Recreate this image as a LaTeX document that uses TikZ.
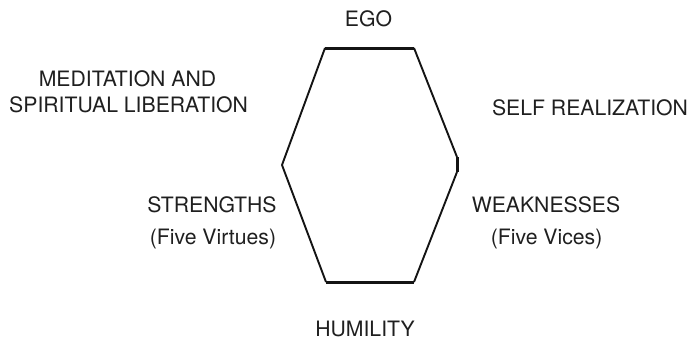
\documentclass[tikz,border=0pt]{standalone}
\usepackage{fontspec}
\setmainfont{TeX Gyre Heros}
\begin{document}
\begin{tikzpicture}[
	x=1pt, y=1pt,
	lbl/.style={ anchor=base, inner sep=0pt, text=black!88, font=\fontsize{21.2}{25}\selectfont },
	side/.style={ draw=black!92, line width=1.9pt, line join=round },
	rim/.style={ draw=black!92, line width=3pt }
]
\useasboundingbox (0,0) rectangle (690,341);

\coordinate (tl) at (325,293);
\coordinate (tr) at (414,293);
\coordinate (rt) at (457,184);
\coordinate (rb) at (457,169);
\coordinate (br) at (414,59);
\coordinate (bl) at (326,59);
\coordinate (lf) at (282,176);
\draw[side] (tr) -- (rt) (rb) -- (br);
\draw[side] (bl) -- (lf) -- (tl);
\draw[rim] (tl) -- (tr);
\draw[rim] (bl) -- (br);
\draw[rim] (rt) -- (rb);

\node at (368.5,314) (ego) [lbl] {EGO};
\node at (365,4.5) (hum) [lbl] {HUMILITY};
\node at (127.5,255) (med) [lbl] {MEDITATION AND};
\node at (128.6,229) (lib) [lbl] {SPIRITUAL LIBERATION};
\node at (590,226) (self) [lbl] {SELF REALIZATION};
\node at (212,128.3) (str) [lbl] {STRENGTHS};
\node at (213,97) (virt) [lbl] {(Five Virtues)};
\node at (546,128.3) (weak) [lbl] {WEAKNESSES};
\node at (546.6,97) (vice) [lbl] {(Five Vices)};

\end{tikzpicture}
\end{document}
